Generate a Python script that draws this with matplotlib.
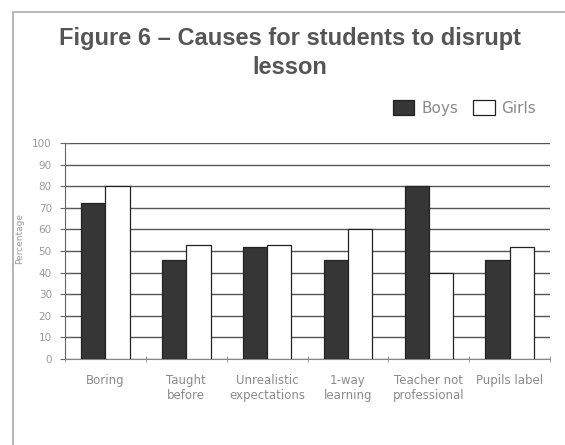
import numpy as np
import matplotlib.pyplot as plt
from matplotlib.patches import Rectangle

causes = ['Boring', 'Taught\nbefore', 'Unrealistic\nexpectations', '1-way\nlearning',
          'Teacher not\nprofessional', 'Pupils label']
boys = [72, 46, 52, 46, 80, 46]
girls = [80, 53, 53, 60, 40, 52]

plt.rcParams['font.family'] = ['DejaVu Sans']

fig = plt.figure(figsize=(5.65, 4.45), dpi=100)

# light frame around the whole chart (runs off the right and bottom edges)
fig.patches.append(Rectangle((13 / 565, -0.05), 0.99, 1 - 12 / 445 + 0.05,
                             transform=fig.transFigure, fill=False,
                             edgecolor='#aaaaaa', linewidth=1.2))

ax = fig.add_axes([65 / 565, 1 - 359 / 445, 485 / 565, 216 / 445])

x = np.arange(len(causes))
w = 0.3
ax.bar(x - w / 2, boys, w, color='#363636', edgecolor='#222222', linewidth=0.9,
       label='Boys', zorder=3)
ax.bar(x + w / 2, girls, w, color='white', edgecolor='#222222', linewidth=0.9,
       label='Girls', zorder=3)

ax.set_xlim(-0.5, len(causes) - 0.5)
ax.set_ylim(0, 100)
ax.set_yticks(range(0, 101, 10))
ax.yaxis.grid(True, color='#555555', linewidth=1.0, zorder=0)
ax.set_axisbelow(True)

ax.set_xticks(x)
ax.set_xticklabels(causes, fontsize=8.5, color='#8a8a8a')
ax.tick_params(axis='x', length=0, pad=11)
ax.set_xticks(np.arange(-0.5, len(causes), 1), minor=True)
ax.tick_params(axis='x', which='minor', length=4, color='#888888', direction='inout')
ax.tick_params(axis='y', labelsize=7.5, labelcolor='#9a9a9a', length=7,
               direction='inout', color='#666666', pad=6)

for side in ['top', 'right']:
    ax.spines[side].set_visible(False)
ax.spines['left'].set_color('#666666')
ax.spines['bottom'].set_color('#888888')

ax.set_ylabel('Percentage', fontsize=6.5, color='#999999')
ax.yaxis.set_label_coords(-0.085, 0.56)

title_font = dict(ha='center', va='baseline', fontsize=17, fontweight='bold',
                  color='#555555', family='Liberation Sans')
fig.text(290 / 565, 1 - 45 / 445, 'Figure 6 \u2013 Causes for students to disrupt', **title_font)
fig.text(290 / 565, 1 - 74 / 445, 'lesson', **title_font)

handles, labels = ax.get_legend_handles_labels()
fig.legend(handles, labels, loc='center right', bbox_to_anchor=(544 / 565, 1 - 108 / 445),
           ncol=2, frameon=False, fontsize=11, borderpad=0,
           handlelength=1.4, handleheight=1.15, columnspacing=1.0,
           handletextpad=0.45, labelcolor='#8a8a8a')

fig.savefig('out.png', dpi=100)
